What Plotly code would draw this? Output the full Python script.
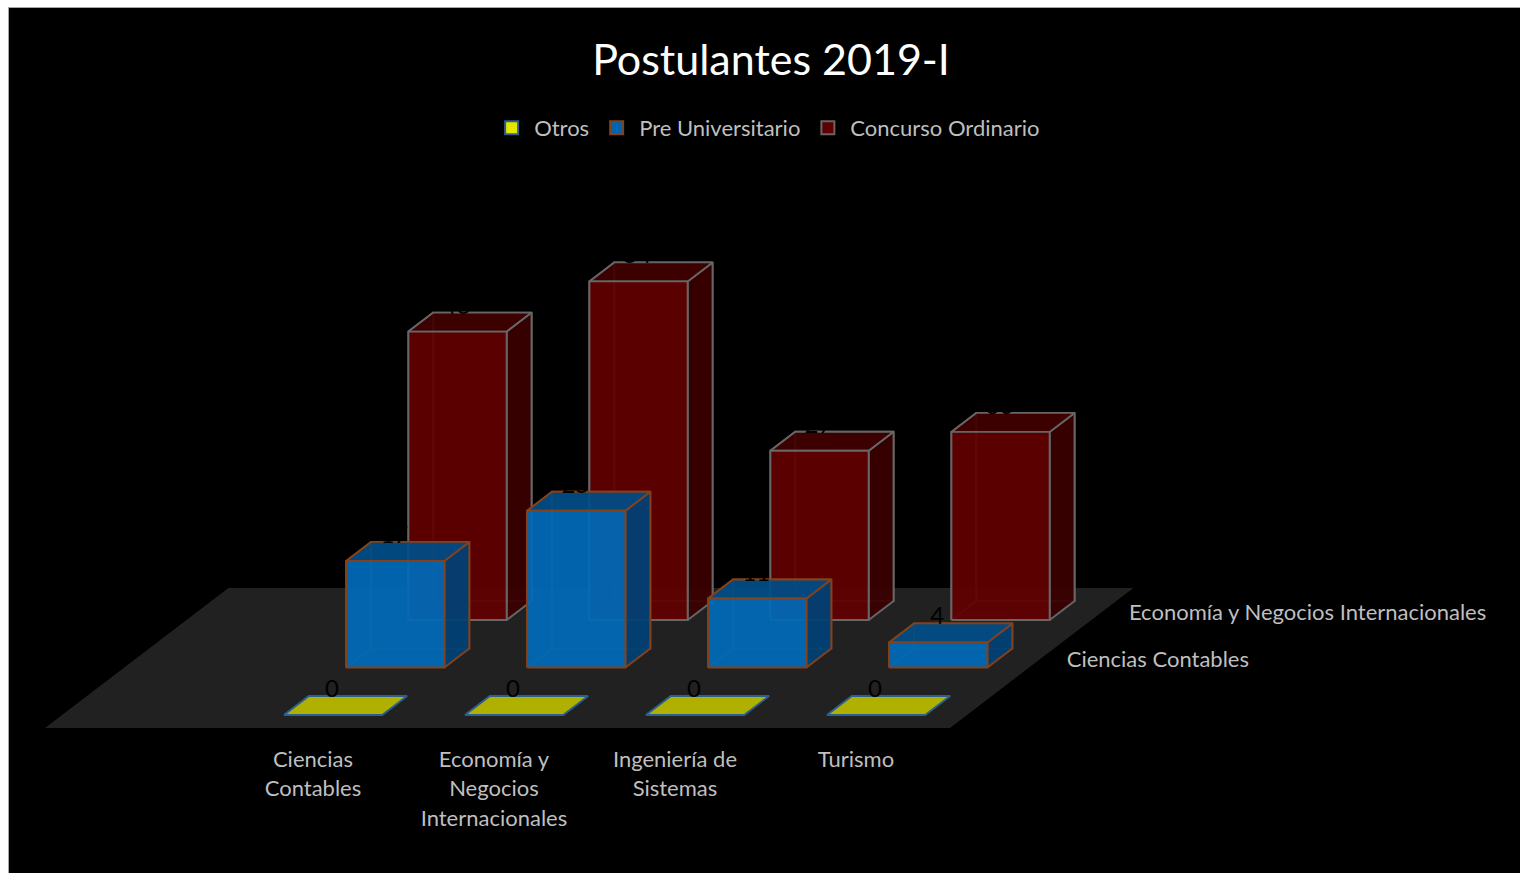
import plotly.graph_objects as go

# ---------- data ----------
series_names = ["Otros", "Pre Universitario", "Concurso Ordinario"]
otros = [0, 0, 0, 0]
pre_universitario = [17, 25, 11, 4]
concurso_ordinario = [46, 54, 27, 30]
tick_labels = ["Ciencias<br>Contables", "Economía y<br>Negocios<br>Internacionales",
               "Ingeniería de<br>Sistemas", "Turismo"]
depth_labels = ["", "Ciencias Contables", "Economía y Negocios Internacionales"]

# ---------- oblique projection (a 3-D column chart seen from above right) ----------
W, H = 1520, 873
ORIGIN_X, ORIGIN_Y = 45.0, 728.0
SLOT = 181.0       # px per category slot
SHEAR = 1.31       # x shift per px of depth
UNIT = 6.27        # px per value unit
ROW_STEP = 47.5    # depth px between rows
FRONT_GAP = 13.0   # floor front edge -> first row
BAR_DEPTH = 19.0
BAR_W = 0.543
BAR_GAP = 0.226
FLOOR_SLOTS = 5
FLOOR_DEPTH = 140.0
FIRST_SLOT = 1     # the floor has one empty leading slot


def project(c, d, v=0.0):
    return ORIGIN_X + SLOT * c + SHEAR * d, ORIGIN_Y - d - UNIT * v


def poly(points):
    xy = [project(*p) for p in points]
    xy.append(xy[0])
    return [p[0] for p in xy], [p[1] for p in xy]


styles = [
    dict(front="rgba(176,176,0,1)", side="rgba(150,150,0,1)", top="rgba(176,176,0,1)",
         edge="#2a5f8f", swatch="#e6e600", values=otros),
    dict(front="rgba(0,106,184,0.93)", side="rgba(0,66,118,0.93)", top="rgba(0,78,134,0.93)",
         edge="#85421a", swatch="#0064ae", values=pre_universitario),
    dict(front="rgba(98,0,0,0.93)", side="rgba(58,0,0,0.93)", top="rgba(66,0,0,0.93)",
         edge="#666666", swatch="#5c0000", values=concurso_ordinario),
]

fig = go.Figure()


def add_face(points, fill, edge, name, width=1.9):
    x, y = poly(points)
    fig.add_trace(go.Scatter(
        x=x, y=y, mode="lines", fill="toself", fillcolor=fill,
        line=dict(color=edge, width=width), showlegend=False, hoverinfo="skip", name=name))


# floor
fx, fy = poly([(0, 0), (FLOOR_SLOTS, 0), (FLOOR_SLOTS, FLOOR_DEPTH), (0, FLOOR_DEPTH)])
fig.add_trace(go.Scatter(x=fx, y=fy, mode="lines", fill="toself", fillcolor="#212121",
                         line=dict(color="#212121", width=0), showlegend=False, hoverinfo="skip"))

# bars, back row first
for r in [2, 1, 0]:
    st = styles[r]
    name = series_names[r]
    d0 = FRONT_GAP + ROW_STEP * r
    d1 = d0 + BAR_DEPTH
    for k, v in enumerate(st["values"]):
        c0 = FIRST_SLOT + k + BAR_GAP
        c1 = c0 + BAR_W
        if v > 0:
            # hidden faces: their edges show faintly through the translucent front
            add_face([(c0, d1, 0), (c1, d1, 0), (c1, d1, v), (c0, d1, v)], "rgba(0,0,0,0)", st["edge"], name)
            add_face([(c0, d0, 0), (c0, d1, 0), (c0, d1, v), (c0, d0, v)], "rgba(0,0,0,0)", st["edge"], name)
            add_face([(c1, d0, 0), (c1, d1, 0), (c1, d1, v), (c1, d0, v)], st["side"], st["edge"], name)
        add_face([(c0, d0, v), (c1, d0, v), (c1, d1, v), (c0, d1, v)], st["top"], st["edge"], name)
        if v > 0:
            add_face([(c0, d0, 0), (c1, d0, 0), (c1, d0, v), (c0, d0, v)], st["front"], st["edge"], name)

# value labels (black, so they only show where they cross a face)
lx, ly, lt = [], [], []
for r in [2, 1, 0]:
    st = styles[r]
    d0 = FRONT_GAP + ROW_STEP * r
    d1 = d0 + BAR_DEPTH
    for k, v in enumerate(st["values"]):
        c0 = FIRST_SLOT + k + BAR_GAP
        x, _ = project(c0 + BAR_W / 2, d0, v)
        _, y = project(c0, d1, v)
        lx.append(x - 1)
        ly.append(y + 7)
        lt.append(str(v))
fig.add_trace(go.Scatter(x=lx, y=ly, mode="text", text=lt, textposition="top center",
                         textfont=dict(family="Lato", size=24, color="#000000"),
                         showlegend=False, hoverinfo="skip"))

# category labels, one text point per line (fixed line pitch)
LABEL_TOP = 761.5
LINE_PITCH = 29.4
tx, ty, tt = [], [], []
for k, lab in enumerate(tick_labels):
    x, _ = project(FIRST_SLOT + k + 0.5, -13.0)
    for i, line in enumerate(lab.split("<br>")):
        tx.append(x + 13.5)
        ty.append(LABEL_TOP + i * LINE_PITCH)
        tt.append(line)
fig.add_trace(go.Scatter(x=tx, y=ty, mode="text", text=tt, textposition="middle center",
                         textfont=dict(family="Lato", size=22, color="#bfbfbf"),
                         showlegend=False, hoverinfo="skip"))

# depth labels
dx, dy, dt = [], [], []
for r, lab in enumerate(depth_labels):
    if lab:
        x, y = project(FLOOR_SLOTS, FRONT_GAP + ROW_STEP * r + BAR_DEPTH / 2)
        dx.append(x + 25)
        dy.append(y + 3.5)
        dt.append(lab)
fig.add_trace(go.Scatter(x=dx, y=dy, mode="text", text=dt, textposition="middle right",
                         textfont=dict(family="Lato", size=22, color="#bfbfbf"),
                         showlegend=False, hoverinfo="skip"))

# legend entries
for st, name in zip(styles, series_names):
    fig.add_trace(go.Scatter(x=[None], y=[None], mode="markers", name=name,
                             marker=dict(symbol="square", size=13, color=st["swatch"],
                                         line=dict(color=st["edge"], width=2))))

fig.update_layout(
    width=W, height=H,
    margin=dict(l=9, r=0, t=8, b=0, pad=0),
    paper_bgcolor="#ffffff",
    plot_bgcolor="#000000",
    showlegend=True,
    title=dict(text="Postulantes 2019-I", x=771 / W, xanchor="center",
               y=1 - 59.5 / H, yanchor="middle",
               font=dict(family="Lato", size=43, color="#ffffff")),
    legend=dict(orientation="h", x=483 / W, xanchor="left", y=1 - 121 / H, yanchor="middle",
                bgcolor="rgba(0,0,0,0)", font=dict(family="Lato", size=22, color="#bfbfbf"),
                itemwidth=35, traceorder="normal", itemclick=False, itemdoubleclick=False),
    xaxis=dict(range=[9, W], visible=True, showgrid=False, zeroline=False, showticklabels=False,
               ticks="", showline=True, linecolor="#a6a6a6", linewidth=1, side="top", fixedrange=True),
    yaxis=dict(range=[H, 8], visible=True, showgrid=False, zeroline=False, showticklabels=False,
               ticks="", showline=True, linecolor="#a6a6a6", linewidth=1, fixedrange=True),
)

fig.write_html("out.html", config={"displayModeBar": False},
               post_script="document.body.style.margin='0';")
